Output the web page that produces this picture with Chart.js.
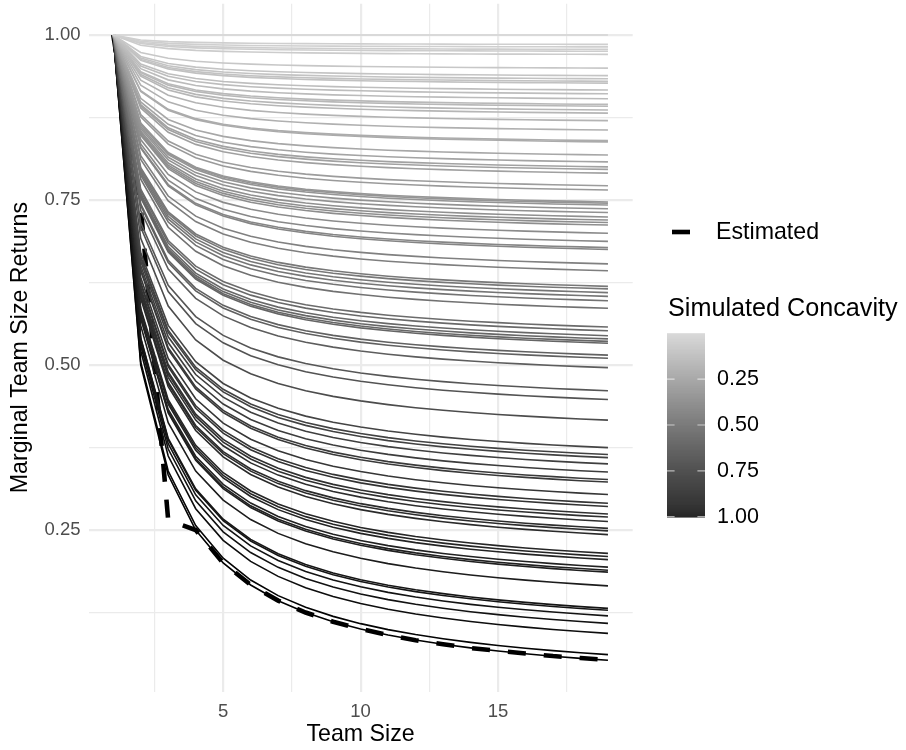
<!DOCTYPE html>
<html>
<head>
<meta charset="utf-8">
<script src="https://cdn.jsdelivr.net/npm/chart.js@4.4.1/dist/chart.umd.min.js"></script>
<style>
    html, body { margin: 0; padding: 0; background: #fff; }
    #wrap { width: 906px; height: 750px; }
</style>
</head>
<body>
<div id="wrap"><canvas id="chart" width="906" height="750"></canvas></div>
<script>
const teamSizes = [1, 2, 3, 4, 5, 6, 7, 8, 9, 10, 11, 12, 13, 14, 15, 16, 17, 18, 19];

// simulated concavity of each grey curve, read from where the curve ends at team size 19
const concavity = [
    0.000, 0.015, 0.019, 0.023, 0.026, 0.031, 0.053, 0.065, 0.070, 0.074,
    0.077, 0.088, 0.094, 0.102, 0.111, 0.114, 0.120, 0.125, 0.137, 0.152,
    0.169, 0.171, 0.192, 0.203, 0.211, 0.215, 0.221, 0.241, 0.248, 0.267,
    0.269, 0.272, 0.278, 0.284, 0.291, 0.296, 0.300, 0.304, 0.317, 0.330,
    0.340, 0.343, 0.366, 0.377, 0.402, 0.406, 0.412, 0.418, 0.425, 0.437,
    0.467, 0.473, 0.481, 0.486, 0.490, 0.493, 0.512, 0.517, 0.532, 0.569,
    0.583, 0.616, 0.660, 0.671, 0.676, 0.686, 0.699, 0.711, 0.715, 0.735,
    0.749, 0.754, 0.766, 0.771, 0.778, 0.789, 0.793, 0.799, 0.829, 0.834,
    0.839, 0.851, 0.856, 0.859, 0.881, 0.917, 0.920, 0.929, 0.941, 0.957,
    0.991, 1.000
];

const estimated = [
    1.000, 0.740, 0.265, 0.250, 0.200, 0.167, 0.143, 0.125, 0.111, 0.100,
    0.091, 0.083, 0.077, 0.071, 0.067, 0.063, 0.059, 0.056, 0.053
];

const xTicks = [2.5, 5, 7.5, 10, 12.5, 15, 17.5];
const xLabels = [5, 10, 15];
const yTicks = [0.125, 0.25, 0.375, 0.5, 0.625, 0.75, 0.875, 1.0];
const yLabels = [0.25, 0.5, 0.75, 1.0];
const legendBreaks = [0.25, 0.5, 0.75, 1.0];

// grey ramp: lightgrey at 0 to black at 1, interpolated on Lab lightness
function grey(k) {
    const L = 84.57 * (1 - k);
    const fy = (L + 16) / 116;
    const Y = fy > 6 / 29 ? fy * fy * fy : (fy - 4 / 29) * 3 * (6 / 29) * (6 / 29);
    const s = Y <= 0.0031308 ? 12.92 * Y : 1.055 * Math.pow(Y, 1 / 2.4) - 0.055;
    const v = Math.round(Math.max(0, Math.min(1, s)) * 255);
    return `rgb(${v}, ${v}, ${v})`;
}

// marginal return of the n-th member: constant share plus a 1/n share weighted by concavity
const datasets = concavity.map(k => ({
    data: teamSizes.map(n => ({ x: n, y: (1 - k) + k / n })),
    borderColor: grey(k),
    borderWidth: 1.6,
    pointRadius: 0,
    tension: 0,
    fill: false
}));

datasets.push({
    label: 'Estimated',
    data: teamSizes.map((n, i) => ({ x: n, y: estimated[i] })),
    borderColor: '#000',
    borderWidth: 4.6,
    borderDash: [18, 18],
    pointRadius: 0,
    tension: 0,
    fill: false
});

const FONT = '"Liberation Sans", Arial, sans-serif';

const legendPlugin = {
    id: 'ggLegend',
    afterDraw(chart) {
        const ctx = chart.ctx;
        ctx.save();

        // dashed key
        ctx.strokeStyle = '#000';
        ctx.lineWidth = 4.6;
        ctx.setLineDash([18, 18]);
        ctx.beginPath();
        ctx.moveTo(672, 232);
        ctx.lineTo(706, 232);
        ctx.stroke();
        ctx.setLineDash([]);

        ctx.fillStyle = '#000';
        ctx.textBaseline = 'middle';
        ctx.textAlign = 'left';
        ctx.font = `23.2px ${FONT}`;
        ctx.fillText('Estimated', 716, 233);

        ctx.font = `25.2px ${FONT}`;
        ctx.fillText('Simulated Concavity', 668, 309);

        // colour bar
        const barX = 667, barW = 38, barTop = 333.3, barH = 183.4;
        for (let i = 0; i < barH; i++) {
            ctx.fillStyle = grey(i / barH);
            ctx.fillRect(barX, barTop + i, barW, 1.2);
        }

        ctx.strokeStyle = 'rgba(255, 255, 255, 0.6)';
        ctx.lineWidth = 1.2;
        ctx.font = `21.5px ${FONT}`;
        ctx.fillStyle = '#000';
        legendBreaks.forEach(b => {
            const y = barTop + b * barH;
            ctx.beginPath();
            ctx.moveTo(barX, y);
            ctx.lineTo(barX + 7.6, y);
            ctx.moveTo(barX + barW - 7.6, y);
            ctx.lineTo(barX + barW, y);
            ctx.stroke();
            ctx.fillText(b.toFixed(2), 717, y);
        });

        ctx.restore();
    }
};

Chart.defaults.font.family = FONT;

// keep the panel exactly where ggplot put it: no extra room for overhanging labels
function pinPadding(scale) {
    scale.paddingTop = 0;
    scale.paddingBottom = 0;
    scale.paddingLeft = 0;
    scale.paddingRight = 0;
}

new Chart(document.getElementById('chart'), {
    type: 'line',
    data: { datasets },
    options: {
        responsive: false,
        animation: false,
        events: [],
        layout: { padding: { left: 0, right: 273.3, top: 3.7, bottom: 0 } },
        plugins: {
            legend: { display: false },
            tooltip: { enabled: false }
        },
        scales: {
            x: {
                type: 'linear',
                min: 0.1,
                max: 19.9,
                afterBuildTicks: (scale) => { scale.ticks = xTicks.map(v => ({ value: v })); },
                afterFit: (scale) => { scale.height = 58.5; pinPadding(scale); },
                border: { display: false },
                grid: {
                    drawTicks: false,
                    tickLength: 0,
                    color: '#ebebeb',
                    lineWidth: (c) => xLabels.includes(c.tick.value) ? 2.2 : 1.2
                },
                ticks: {
                    autoSkip: false,
                    maxRotation: 0,
                    padding: 9,
                    color: '#4d4d4d',
                    font: { size: 18.5 },
                    callback: (value) => xLabels.includes(value) ? String(value) : ''
                },
                title: {
                    display: true,
                    text: 'Team Size',
                    color: '#000',
                    font: { size: 23.2 },
                    padding: { top: 0, bottom: 1.5 }
                }
            },
            y: {
                type: 'linear',
                min: 0.0053,
                max: 1.0474,
                afterBuildTicks: (scale) => { scale.ticks = yTicks.map(v => ({ value: v })); },
                afterFit: (scale) => { scale.width = 88.5; pinPadding(scale); },
                border: { display: false },
                grid: {
                    drawTicks: false,
                    tickLength: 0,
                    color: '#ebebeb',
                    lineWidth: (c) => yLabels.includes(c.tick.value) ? 2.2 : 1.2
                },
                ticks: {
                    autoSkip: false,
                    padding: 8,
                    color: '#4d4d4d',
                    font: { size: 18.5 },
                    callback: (value) => yLabels.includes(value) ? value.toFixed(2) : ''
                },
                title: {
                    display: true,
                    text: 'Marginal Team Size Returns',
                    color: '#000',
                    font: { size: 23.2 },
                    padding: { top: 7, bottom: 0 }
                }
            }
        }
    },
    plugins: [legendPlugin]
});
</script>
</body>
</html>
